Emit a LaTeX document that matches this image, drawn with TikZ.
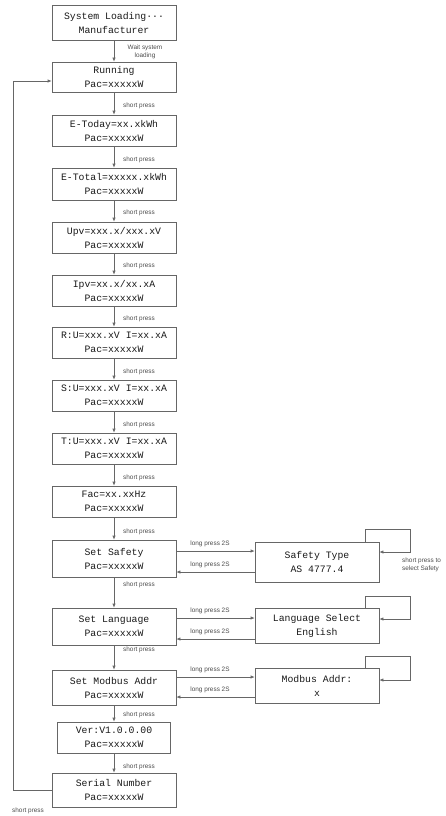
\documentclass[tikz,border=0pt]{standalone}
\usepackage{fontspec}
\setmonofont{Liberation Mono}
\setsansfont{Liberation Sans}
\usetikzlibrary{arrows.meta}
\tikzset{
  mbox/.style={draw=black!60, line width=0.6pt, inner sep=0pt, align=center,
    text=black!90, font=\ttfamily\fontsize{9.8}{14}\selectfont,
    minimum width=124pt},
  arr/.style={draw=black!60, line width=0.6pt, -{Latex[length=4pt,width=3.2pt]}},
  lbl/.style={inner sep=0pt, text=black!70, font=\sffamily\fontsize{6.4}{8}\selectfont, align=center}
}
\begin{document}
\begin{tikzpicture}[x=1pt,y=-1pt]
\useasboundingbox (0,0) rectangle (446,816);
\clip (0,0) rectangle (446,816);
% main column
\node[mbox, minimum height=35pt] (b1) at (114,22.5) {System Loading···\\Manufacturer};
\node[mbox, minimum height=30pt] (b2) at (114,77) {Running\\Pac=xxxxxW};
\node[mbox, minimum height=31pt] (b3) at (114,130.5) {E-Today=xx.xkWh\\Pac=xxxxxW};
\node[mbox, minimum height=32pt] (b4) at (114,184) {E-Total=xxxxx.xkWh\\Pac=xxxxxW};
\node[mbox, minimum height=31pt] (b5) at (114,237.5) {Upv=xxx.x/xxx.xV\\Pac=xxxxxW};
\node[mbox, minimum height=31pt] (b6) at (114,290.5) {Ipv=xx.x/xx.xA\\Pac=xxxxxW};
\node[mbox, minimum height=31pt] (b7) at (114,342.5) {R:U=xxx.xV I=xx.xA\\Pac=xxxxxW};
\node[mbox, minimum height=31pt] (b8) at (114,395.5) {S:U=xxx.xV I=xx.xA\\Pac=xxxxxW};
\node[mbox, minimum height=31pt] (b9) at (114,448.5) {T:U=xxx.xV I=xx.xA\\Pac=xxxxxW};
\node[mbox, minimum height=31pt] (b10) at (114,501.5) {Fac=xx.xxHz\\Pac=xxxxxW};
\node[mbox, minimum height=37pt] (b11) at (114,558.5) {Set Safety\\Pac=xxxxxW};
\node[mbox, minimum height=37pt] (b12) at (114,626.5) {Set Language\\Pac=xxxxxW};
\node[mbox, minimum height=35pt] (b13) at (114,687.5) {Set Modbus Addr\\Pac=xxxxxW};
\node[mbox, minimum height=31pt, minimum width=113pt] (b14) at (114,737.5) {Ver:V1.0.0.00\\Pac=xxxxxW};
\node[mbox, minimum height=34pt] (b15) at (114,790) {Serial Number\\Pac=xxxxxW};
% right column
\node[mbox, minimum height=40pt] (s1) at (317,562) {Safety Type\\AS 4777.4};
\node[mbox, minimum height=35pt] (s2) at (317,625.5) {Language Select\\English};
\node[mbox, minimum height=35pt] (s3) at (317,685.5) {Modbus Addr:\\x};
% vertical arrows
\foreach \a/\b in {b1/b2,b2/b3,b3/b4,b4/b5,b5/b6,b6/b7,b7/b8,b8/b9,b9/b10,b10/b11,b11/b12,b12/b13,b13/b14,b14/b15}
  \draw[arr] (\a.south) -- (\a.south |- \b.north);
% labels on vertical arrows
\node[lbl] (w1) at (145,51.5) {Wait system\\loading};
\foreach \y/\n in {106/l2,160/l3,213/l4,266/l5,319/l6,372/l7,425/l8,478/l9,532/l10,585/l11,650/l12,715/l13,767/l14}
  \node[lbl, anchor=west] (\n) at (123,\y) {short press};
% long press arrows
\draw[arr] (b11.east |- 0,551) -- (s1.west |- 0,551);
\draw[arr] (s1.west |- 0,572) -- (b11.east |- 0,572);
\node[lbl] (p1) at (210,544) {long press 2S};
\node[lbl] (p2) at (210,565) {long press 2S};
\draw[arr] (b12.east |- 0,618) -- (s2.west |- 0,618);
\draw[arr] (s2.west |- 0,639) -- (b12.east |- 0,639);
\node[lbl] (p3) at (210,611) {long press 2S};
\node[lbl] (p4) at (210,632) {long press 2S};
\draw[arr] (b13.east |- 0,677) -- (s3.west |- 0,677);
\draw[arr] (s3.west |- 0,697) -- (b13.east |- 0,697);
\node[lbl] (p5) at (210,670) {long press 2S};
\node[lbl] (p6) at (210,690) {long press 2S};
% self loops
\draw[arr] (s1.north -| 365,0) -- (365,529) -- (410,529) -- (410,552) -- (s1.east |- 0,552);
\draw[arr] (s2.north -| 365,0) -- (365,596) -- (410,596) -- (410,619) -- (s2.east |- 0,619);
\draw[arr] (s3.north -| 365,0) -- (365,656) -- (410,656) -- (410,680) -- (s3.east |- 0,680);
\node[lbl, anchor=north west, align=left] (q1) at (402,558) {short press to\\select Safety};
% return loop
\draw[arr] (b15.west) -| (13,81) -- (b2.west |- 0,81);
\node[lbl, anchor=west] (q2) at (12,811) {short press};
\end{tikzpicture}
\end{document}
